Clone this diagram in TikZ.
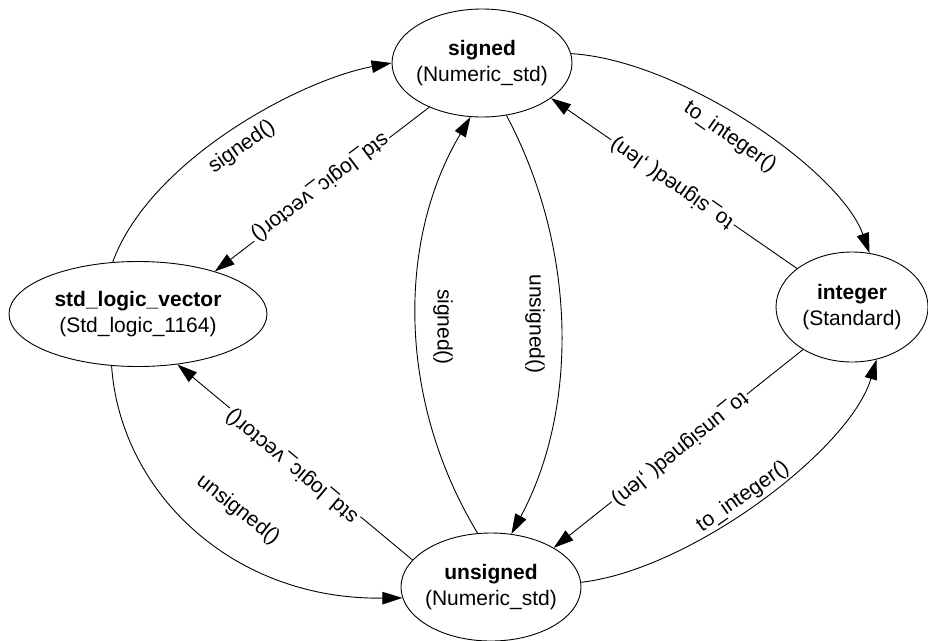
\documentclass[tikz,border=0pt]{standalone}
\usepackage{fontspec}
\setmainfont{Liberation Sans}
\usetikzlibrary{arrows.meta,shapes.geometric}
\newcommand\nodetext[2]{\makebox[0pt]{\begin{tabular}{@{}c@{}}\textbf{#1}\\#2\end{tabular}}}
\begin{document}
\begin{tikzpicture}[x=1pt,y=-1pt,
  state/.style={draw,ellipse,inner sep=0pt,line width=0.9pt,font=\fontsize{21}{26}\selectfont},
  conn/.style={line width=0.9pt,-{Triangle[length=20pt,width=12.5pt]}},
  elab/.style={font=\fontsize{21}{26}\selectfont,inner sep=1pt},
  elabw/.style={elab,fill=white,inner sep=2pt}]
\useasboundingbox (0,0) rectangle (928,640);
\node[state,minimum width=180pt,minimum height=108pt] (signed) at (482,63) {\nodetext{signed}{(Numeric\_std)}};
\node[state,minimum width=258pt,minimum height=105pt] (slv) at (138,314) {\nodetext{std\_logic\_vector}{(Std\_logic\_1164)}};
\node[state,minimum width=152pt,minimum height=110pt] (integer) at (852,307) {\nodetext{integer}{(Standard)}};
\node[state,minimum width=180pt,minimum height=108pt] (unsigned) at (491,587) {\nodetext{unsigned}{(Numeric\_std)}};

\draw[conn] (slv.116) .. controls (150,160) and (300,80) .. (signed.180);
\draw[conn] (signed.220) -- (slv.29);
\draw[conn] (signed.6) .. controls (680,60) and (840,170) .. (integer.72);
\draw[conn] (integer.145) -- (signed.-27);
\draw[conn] (signed.-65) .. controls (578,250) and (578,410) .. (unsigned.69);
\draw[conn] (unsigned.104) .. controls (397,400) and (397,240) .. (signed.-102);
\draw[conn] (slv.-117) .. controls (120,490) and (230,600) .. (unsigned.187);
\draw[conn] (unsigned.161) -- (slv.-52);
\draw[conn] (integer.221) -- (unsigned.32);
\draw[conn] (unsigned.3) .. controls (690,570) and (850,450) .. (integer.-65);

\node[elab,rotate=35] (l1) at (242,147) {signed()};
\node[elabw,rotate=217] (l2) at (320,187) {std\_logic\_vector()};
\node[elab,rotate=-35] (l3) at (730,137) {to\_integer()};
\node[elabw,rotate=145] (l4) at (672,183) {to\_signed( ,len)};
\node[elab,rotate=-90] (l5) at (535,324) {unsigned()};
\node[elab,rotate=-90] (l6) at (443,327) {signed()};
\node[elab,rotate=-38] (l7) at (238,510) {unsigned()};
\node[elabw,rotate=140] (l8) at (292,466) {std\_logic\_vector()};
\node[elabw,rotate=219] (l9) at (680,449) {to\_unsigned( ,len)};
\node[elab,rotate=35] (l10) at (743,497) {to\_integer()};
\end{tikzpicture}
\end{document}
